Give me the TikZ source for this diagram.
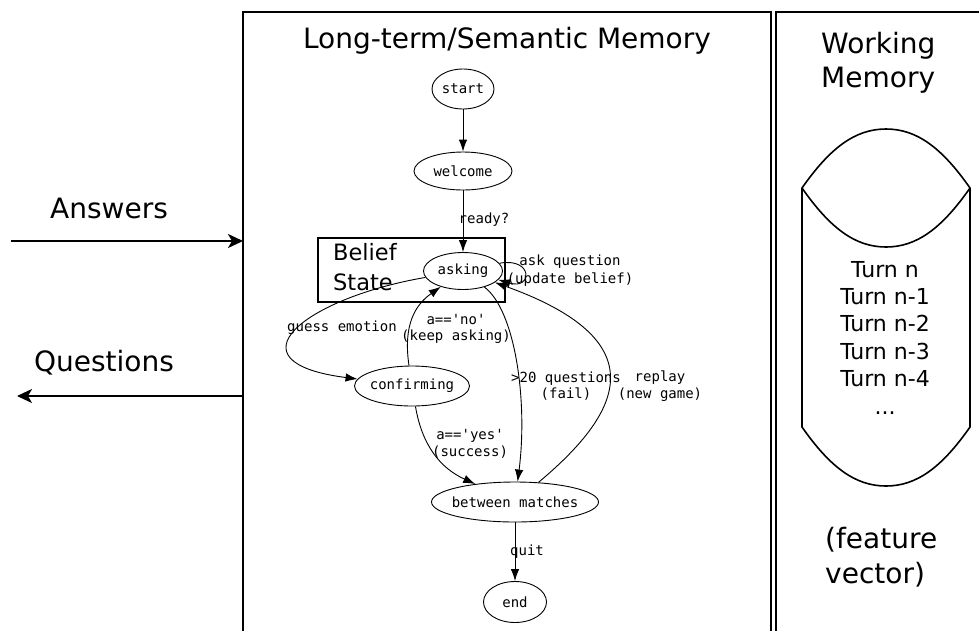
\documentclass[tikz,border=0pt]{standalone}
\usepackage{fontspec}
\newfontfamily\sansf{DejaVu Sans}
\newfontfamily\monof[Ligatures=TeXOff]{DejaVu Sans Mono}
\usetikzlibrary{shapes.geometric,arrows.meta}
\newcommand\zb[1]{\makebox[0pt]{#1}}
\begin{document}
\begin{tikzpicture}[x=1pt,y=-1pt,
  st/.style={ellipse,draw,line width=0.9pt,inner sep=0pt,font=\monof\fontsize{14}{16}\selectfont},
  lbl/.style={font=\monof\fontsize{14}{16.5}\selectfont,align=center,inner sep=0pt},
  big/.style={font=\sansf\fontsize{28}{34}\selectfont,inner sep=0pt},
  mid/.style={font=\sansf\fontsize{22}{27.4}\selectfont,inner sep=0pt},
  edge/.style={line width=0.9pt,-{Latex[length=12pt,width=8.5pt]}},
  io/.style={line width=2pt,-{Stealth[length=15pt,width=14pt,inset=4pt]}},
  frame/.style={line width=2pt}
]
\useasboundingbox (0,0) rectangle (979,630);
% frames
\draw[frame] (243,640) -- (243,12) -- (771,12) -- (771,640);
\draw[frame] (776,640) -- (776,12) -- (990,12);
% title texts
\node[big,anchor=base] (title) at (507,48) {Long-term/Semantic Memory};
\node[big,align=left,anchor=base west] (wm) at (821,87) {Working\\Memory};
% states
\node[st,minimum width=62pt,minimum height=40pt] (start) at (463,89) {\zb{start}};
\node[st,minimum width=98pt,minimum height=38pt] (welcome) at (463,171) {\zb{welcome}};
\node[st,minimum width=79pt,minimum height=37pt] (asking) at (463,271) {\zb{asking}};
\node[st,minimum width=115pt,minimum height=40pt] (confirming) at (412,386) {\zb{confirming}};
\node[st,minimum width=167pt,minimum height=40pt] (between) at (515,502) {\zb{between matches}};
\node[st,minimum width=63pt,minimum height=41pt] (end) at (515,602) {\zb{end}};
% belief box
\draw[line width=2.4pt] (318,238) rectangle (505,302);
\node[mid,font=\sansf\fontsize{22.5}{30}\selectfont,align=left,anchor=base west] (belief) at (333,290) {Belief\\State};
% edges
\draw[edge] (start) -- (welcome);
\draw[edge] (welcome) -- (asking);
\node[lbl] (lready) at (484,220) {ready?};
\draw[edge] (asking.12) .. controls (533,257) and (533,290) .. (asking.-14);
\node[lbl,font=\monof\fontsize{14}{18}\selectfont] (lask) at (570,271) {ask question\\(update belief)};
\draw[edge] (asking) .. controls (305,298) and (225,362) .. (confirming);
\node[lbl] (lguess) at (342,328) {guess emotion};
\draw[edge] (confirming) .. controls (403,325) and (415,305) .. (asking);
\node[lbl] (lno) at (456,329) {a=='no'\\(keep asking)};
\draw[edge] (asking) .. controls (515,310) and (528,400) .. (between);
\node[lbl] (lfail) at (566,386) {>20 questions\\(fail)};
\draw[edge] (between) .. controls (625,410) and (655,340) .. (asking);
\node[lbl] (lreplay) at (660,386) {replay\\(new game)};
\draw[edge] (confirming) .. controls (422,445) and (440,468) .. (between);
\node[lbl] (lyes) at (470,444) {a=='yes'\\(success)};
\draw[edge] (between) -- (end);
\node[lbl] (lquit) at (527,552) {quit};
% left arrows
\coordinate (ain) at (11,241);
\coordinate (aout) at (243,241);
\coordinate (qin) at (243,396);
\coordinate (qout) at (17,396);
\draw[io] (ain) -- (aout);
\draw[io] (qin) -- (qout);
\node[big,anchor=base] (answers) at (109,218) {Answers};
\node[big,anchor=base] (questions) at (104,371) {Questions};
% working memory store
\draw[line width=1.6pt] (802,188) .. controls (830,148) and (855,129) .. (886,129)
  .. controls (917,129) and (942,148) .. (970,188)
  -- (970,427) .. controls (942,467) and (917,486) .. (886,486)
  .. controls (855,486) and (830,467) .. (802,427) -- cycle;
\draw[line width=1.6pt] (802,188) .. controls (830,228) and (855,247) .. (886,247)
  .. controls (917,247) and (942,228) .. (970,188);
\node[mid,align=center,anchor=base] (turns) at (885,414) {Turn n\\Turn n-1\\Turn n-2\\Turn n-3\\Turn n-4\\...};
\node[big,align=left,anchor=base west] (fv) at (825,583) {(feature\\[1pt]vector)};
\end{tikzpicture}
\end{document}
